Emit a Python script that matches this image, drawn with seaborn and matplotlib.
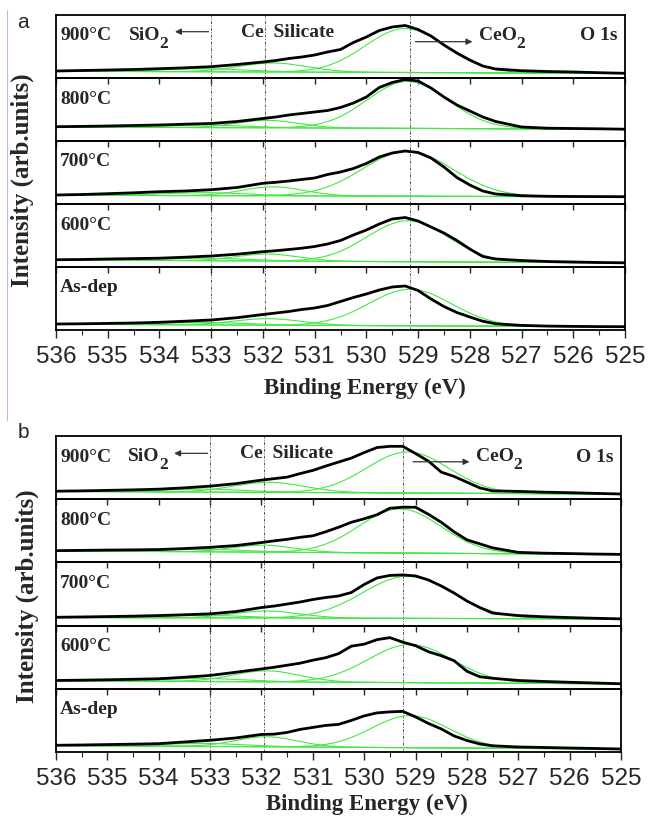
import numpy as np
import matplotlib
matplotlib.use("Agg")
import matplotlib.pyplot as plt
from matplotlib.lines import Line2D
from matplotlib.ticker import MultipleLocator
import seaborn as sns

# --- DATA (heights in px-like units above each strip's floor) ---
ENERGY = [536, 535.5, 535, 534.5, 534, 533.5, 533, 532.5, 532, 531.75, 531.5, 531.25,
          531, 530.75, 530.5, 530.25, 530, 529.75, 529.5, 529.25, 529, 528.75, 528.5,
          528.25, 528, 527.75, 527.5, 527, 526.5, 526, 525.5, 525]
LABELS = ["900°C", "800°C", "700°C", "600°C", "As-dep"]
TICKS = list(range(536, 524, -1))

# panel a, measured curves (black)
A_900 = [7, 7.5, 8, 8.5, 9.3, 10.2, 11.3, 13.5, 16, 17.5, 19.5, 21, 23, 26, 28.5, 35.5,
         41, 47.5, 51, 52.5, 48.5, 42, 33, 25, 18, 12, 9, 7.3, 6.5, 6, 5.3, 4.7]
A_800 = [14.3, 14.6, 15, 15.5, 16, 16.8, 17.5, 19.5, 22.5, 24, 26, 27.5, 29, 30.5, 33.5, 38,
         44, 53.5, 58.5, 61.5, 60, 53, 44, 36, 30, 24, 19.5, 14, 12.8, 12.5, 12.2, 11.8]
A_700 = [9, 9.5, 10.3, 11.2, 12.3, 13, 14.3, 16.5, 20.7, 21.7, 23, 24.5, 26, 29.5, 32, 35.5,
         40.5, 47, 51, 53, 51.5, 46, 37, 26.5, 19, 13, 10, 8.3, 7.7, 7.5, 7.4, 7.3]
A_600 = [7.3, 7.5, 8, 8.4, 8.8, 9.8, 11, 12.8, 15.3, 16.3, 17.5, 18.8, 20.5, 23, 26.5, 32,
         37, 43, 48, 49.5, 46, 40, 34, 26.5, 18, 10.5, 8, 6.5, 5.5, 5, 4.5, 4.2]
A_ASDEP = [6, 6.2, 6.6, 7, 7.7, 8.8, 10, 12.3, 15.5, 17, 18.5, 20.5, 22, 24.5, 28.5, 32.5,
           36, 40, 43, 44, 39.5, 31, 23.5, 17.5, 13, 8.8, 6.2, 4.6, 3.9, 3.6, 3.4, 3.3]

# panel b, measured curves (black)
B_900 = [8, 8.3, 8.8, 9.3, 10, 11.3, 13, 15.5, 19, 20.5, 22, 25.5, 28.7, 33, 37, 41,
         46.5, 51.5, 52.7, 52.7, 45.5, 38, 27, 22.7, 17, 11.3, 8.3, 7.8, 7, 6.5, 5.8, 5.2]
B_800 = [11.7, 12, 12.3, 12.5, 12.8, 13.8, 15, 16.8, 19.8, 21.5, 23, 25, 26.5, 30.5, 35, 40,
         43.5, 47.5, 54, 55, 55, 48, 40, 30.5, 22.5, 18.5, 14.5, 10, 9.2, 8.8, 8.3, 8]
B_700 = [8.3, 8.6, 9, 9.4, 10, 10.8, 11.7, 14, 18, 19.5, 21.5, 23.5, 26, 28, 29.5, 33,
         41, 47.5, 50, 50.5, 49.5, 45.5, 39.5, 32.5, 24.5, 18, 12.5, 10, 8.8, 8, 7.3, 6.7]
B_600 = [8.3, 8.6, 9, 9.5, 10, 11.5, 13.3, 16.5, 19.8, 21.5, 23.5, 25.5, 28.5, 31, 35, 42.5,
         44.5, 49, 51, 46.5, 43, 37, 33, 28, 17.5, 12, 10.5, 8.3, 7.3, 6.5, 5.8, 5]
B_ASDEP = [6.7, 7, 7.4, 7.8, 8.3, 10, 11.7, 14, 17.5, 17.8, 19.5, 22.5, 24.5, 26.5, 27.5, 31.5,
           36, 39, 40, 40.5, 35, 28.5, 23, 16, 11.5, 8, 6.2, 5, 4.5, 4, 3.5, 3]

# fitted background (value at 536 eV, value at 525 eV)
A_BG = [(6.8, 4.6), (14.0, 11.7), (8.8, 7.1), (7.1, 4.1), (5.8, 3.2)]
B_BG = [(7.8, 5.1), (11.5, 7.9), (8.1, 6.6), (8.1, 4.9), (6.5, 2.9)]

# fitted components: (centre eV, height, sigma eV)
A_SIO2 = [(533.1, 3.0, 0.8), (533.1, 2.5, 0.8), (533.1, 3.0, 0.8), (533.1, 2.5, 0.8), (533.1, 2.5, 0.8)]
A_SILICATE = [(531.8, 9.0, 0.67), (531.9, 7.5, 0.6), (531.8, 9.0, 0.6), (531.9, 7.0, 0.6), (531.9, 6.5, 0.65)]
A_CEO2 = [(529.25, 44, 0.77), (529.2, 47, 0.78), (529.2, 45, 0.87), (529.2, 41, 0.78), (529.15, 36.5, 0.8)]
B_SIO2 = [(533.1, 3.0, 0.8), (533.1, 2.5, 0.8), (533.1, 2.5, 0.8), (533.1, 3.0, 0.8), (533.1, 3.0, 0.8)]
B_SILICATE = [(531.85, 10, 0.7), (531.95, 7, 0.6), (531.9, 7, 0.65), (531.9, 11, 0.65), (531.9, 10, 0.6)]
B_CEO2 = [(529.15, 41, 0.8), (529.3, 44, 0.8), (529.15, 42, 0.88), (529.1, 38, 0.82), (529.1, 32, 0.75)]

# reference lines
A_MARKS = [533.0, 531.95, 529.15]
B_MARKS = [533.0, 531.95, 529.25]

# --- STYLE ---
sns.set_theme(style="ticks")
plt.rcParams["font.family"] = ["Liberation Serif", "DejaVu Serif"]

GREEN = "#45e845"
W, H = 649, 823
fig = plt.figure(figsize=(W / 100, H / 100), dpi=100)


def px_axes(x0, x1, y0, y1):
    return fig.add_axes([x0 / W, 1 - y1 / H, (x1 - x0) / W, (y1 - y0) / H])


def gauss_on_bg(fine, bg, comp):
    c, a, s = comp
    return bg + a * np.exp(-(fine - c) ** 2 / (2 * s * s))


def bold(ax, x, y, s, size=14, ha="left"):
    return ax.text(x, y, s, fontsize=size, fontweight="bold", ha=ha, va="baseline")


def with_sub(ax, x, y, s):
    # chemical formula with a lowered "2" placed right after the main text
    base = bold(ax, x, y, s)
    ax.annotate("2", xy=(1, 0), xycoords=base, xytext=(-0.8, -5.5), textcoords="offset points",
                fontsize=12.5, fontweight="bold", ha="left", va="bottom")


def draw_panel(top, bottom, right, curves, bgs, sio2, sil, ceo2, marks, arrow_y):
    h = (bottom - top) / 5
    fine = np.linspace(525, 536, 400)
    axes = []
    for i in range(5):
        ax = px_axes(56, right, top + i * h, top + (i + 1) * h)
        ax.set_facecolor("none")
        for m in marks:
            ax.axvline(m, color="#555555", lw=0.7, ls=(0, (3, 1.5, 1, 1.5)), zorder=0)
        bl, br = bgs[i]
        bg = br + (bl - br) * (fine - 525) / 11.0
        sns.lineplot(x=fine, y=bg, ax=ax, color=GREEN, lw=0.8)
        for comp in (sio2[i], sil[i], ceo2[i]):
            sns.lineplot(x=fine, y=gauss_on_bg(fine, bg, comp), ax=ax, color=GREEN, lw=0.8)
        sns.lineplot(x=ENERGY, y=curves[i], ax=ax, color="black", lw=2.0)

        ax.set_xlim(536, 525)
        ax.set_ylim(0, 63)
        ax.set_yticks([])
        ax.set_xlabel("")
        ax.set_ylabel("")
        for sp in ax.spines.values():
            sp.set_linewidth(1.3)
            sp.set_color("black")
        ax.set_xticks(TICKS)
        if i < 4:
            ax.tick_params(axis="x", direction="out", length=4, width=1, labelbottom=False)
        else:
            ax.xaxis.set_minor_locator(MultipleLocator(0.5))
            ax.set_xticks(TICKS, labels=[str(t) for t in TICKS])
            ax.tick_params(axis="x", which="major", direction="out", length=5.5, width=1,
                           labelsize=17.5, pad=6)
            ax.tick_params(axis="x", which="minor", direction="out", length=3.5, width=0.8)
            for lbl in ax.get_xticklabels():
                lbl.set_fontfamily("Liberation Sans")
        bold(ax, 535.92, 37.5, LABELS[i])
        axes.append(ax)

    ax = axes[0]
    with_sub(ax, 534.59, 38, "SiO")
    ax.annotate("", xy=(533.7, arrow_y[0]), xytext=(533.05, arrow_y[0]),
                arrowprops=dict(arrowstyle="-|>", color="#333333", lw=0.9,
                                mutation_scale=9, shrinkA=0, shrinkB=0))
    bold(ax, 532.42, 41, "Ce  Silicate")
    ax.annotate("", xy=(527.95, arrow_y[1]), xytext=(529.05, arrow_y[1]),
                arrowprops=dict(arrowstyle="-|>", color="#333333", lw=0.9,
                                mutation_scale=9, shrinkA=0, shrinkB=0))
    with_sub(ax, 527.82, 38, "CeO")
    bold(ax, 525.15, 37.5, "O 1s", ha="right")
    return axes


draw_panel(15, 330, 625, [A_900, A_800, A_700, A_600, A_ASDEP], A_BG,
           A_SIO2, A_SILICATE, A_CEO2, A_MARKS, (46.3, 36.3))
draw_panel(436, 752, 621, [B_900, B_800, B_700, B_600, B_ASDEP], B_BG,
           B_SIO2, B_SILICATE, B_CEO2, B_MARKS, (45.7, 37.3))

# panel letters and axis titles
fig.text(22.5 / W, 1 - 22.5 / H, "a", fontsize=15, family="Liberation Sans", ha="center", va="center")
fig.text(23 / W, 1 - 432 / H, "b", fontsize=15, family="Liberation Sans", ha="center", va="center")
fig.text(22.5 / W, 1 - 180 / H, "Intensity (arb.units)", rotation=90, fontsize=18,
         fontweight="bold", ha="center", va="center")
fig.text(27 / W, 1 - 596 / H, "Intensity (arb.units)", rotation=90, fontsize=18,
         fontweight="bold", ha="center", va="center")
fig.text(365 / W, 1 - 388 / H, "Binding Energy (eV)", fontsize=16.5, fontweight="bold",
         ha="center", va="center")
fig.text(367 / W, 1 - 804 / H, "Binding Energy (eV)", fontsize=16.5, fontweight="bold",
         ha="center", va="center")

# thin frame line on the left of panel a
fig.add_artist(Line2D([7 / W, 7 / W], [1 - 10 / H, 1 - 420 / H], color="#a9c1e0", lw=0.8))

fig.savefig("out.png", dpi=100)
